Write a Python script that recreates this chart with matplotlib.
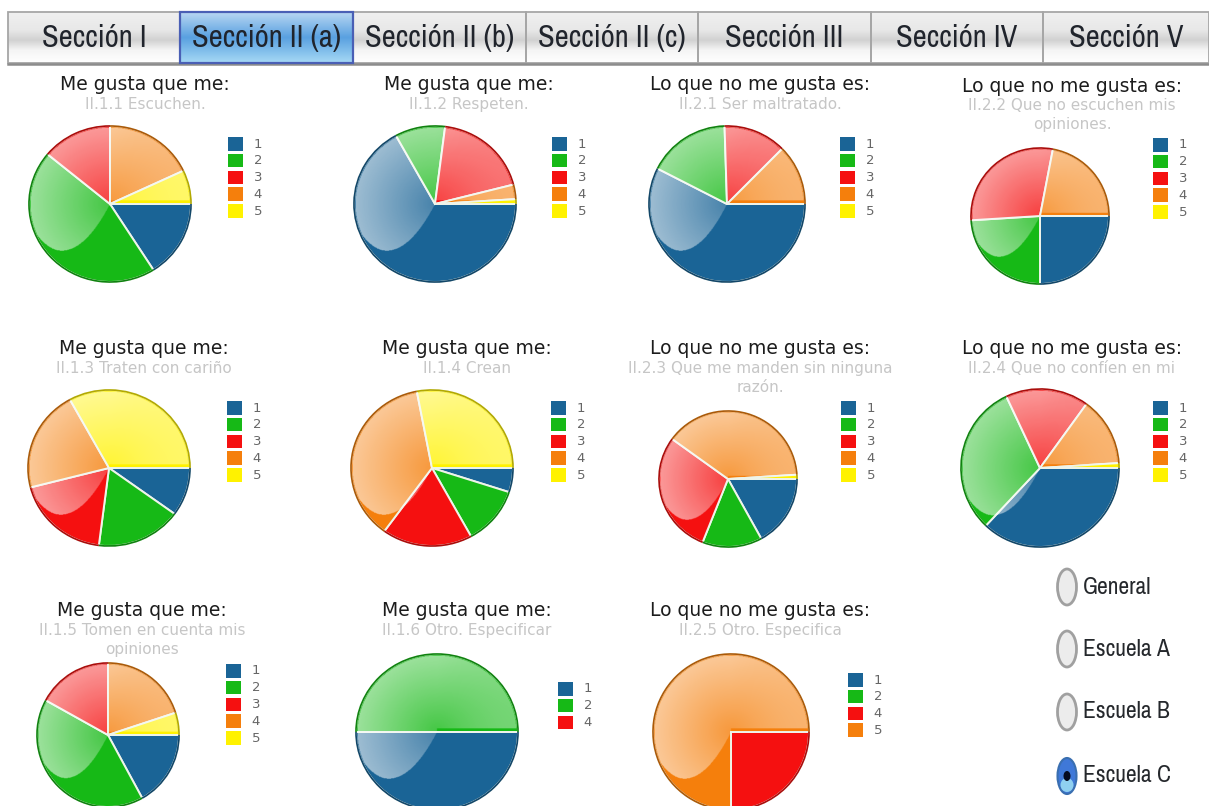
import numpy as np
import matplotlib
matplotlib.use('Agg')
import matplotlib.pyplot as plt
from matplotlib.patches import Arc, Rectangle, Ellipse
from matplotlib import font_manager as fm

W, H = 1209, 806

secciones = ['Sección I', 'Sección II (a)', 'Sección II (b)', 'Sección II (c)',
             'Sección III', 'Sección IV', 'Sección V']
escuelas = ['General', 'Escuela A', 'Escuela B', 'Escuela C']

# valores, en % (sentido horario desde las 3)
etiquetas = ['1', '2', '3', '4', '5']
v_escuchen = [16, 45, 14, 18, 7]
v_respeten = [67, 10, 19, 3, 1]
v_maltratado = [57.5, 17, 13, 12.5, 0]
v_opiniones = [25, 24, 29, 22, 0]
v_carino = [10, 17, 19, 21, 33]
v_crean = [5, 12, 18, 37, 28]
v_manden = [17, 14, 29, 39, 1]
v_confien = [37, 31, 17, 14, 1]
v_tomen = [17, 41, 17, 20, 5]
v_otro1 = [50, 50, 0]
v_otro2 = [0, 0, 25, 75]

azul, verde, rojo, naranja, amarillo = '#1a6496', '#16b916', '#f51010', '#f57f0c', '#fff200'
colores = [azul, verde, rojo, naranja, amarillo]

MG = 'Me gusta que me:'
LQ = 'Lo que no me gusta es:'

# titulo, subtitulo, valores, etiquetas, colores, cx, cy, rx, ry, x e y de la leyenda, x e y del titulo
graficas = [
    (MG, 'II.1.1 Escuchen.', v_escuchen, etiquetas, colores, 110, 204, 81, 78, 228, 137, 145, 85),
    (MG, 'II.1.2 Respeten.', v_respeten, etiquetas, colores, 435, 204, 81, 78, 552, 137, 469, 85),
    (LQ, 'II.2.1 Ser maltratado.', v_maltratado, etiquetas, colores, 727, 204, 78, 78, 840, 137, 760, 85),
    (LQ, 'II.2.2 Que no escuchen mis\nopiniones.', v_opiniones, etiquetas, colores, 1040, 216, 69, 68, 1153, 138, 1072, 86),
    (MG, 'II.1.3 Traten con cariño', v_carino, etiquetas, colores, 109, 468, 81, 78, 227, 401, 144, 349),
    (MG, 'II.1.4 Crean', v_crean, etiquetas, colores, 432, 468, 81, 78, 551, 401, 467, 349),
    (LQ, 'II.2.3 Que me manden sin ninguna\nrazón.', v_manden, etiquetas, colores, 728, 479, 69, 68, 841, 401, 760, 349),
    (LQ, 'II.2.4 Que no confíen en mi', v_confien, etiquetas, colores, 1040, 468, 79, 79, 1153, 401, 1072, 349),
    (MG, 'II.1.5 Tomen en cuenta mis\nopiniones', v_tomen, etiquetas, colores, 108, 735, 71, 72, 226, 664, 142, 611),
    (MG, 'II.1.6 Otro. Especificar', v_otro1, ['1', '2', '4'], [azul, verde, rojo], 437, 732, 81, 78, 558, 682, 467, 611),
    (LQ, 'II.2.5 Otro. Especifica', v_otro2, ['1', '2', '4', '5'], [azul, verde, rojo, naranja], 731, 732, 78, 78, 848, 673, 760, 611),
]

# una fuente estrecha si hay alguna, si no Roboto
instaladas = sorted({f.name for f in fm.fontManager.ttflist})
estrechas = [n for n in instaladas if 'Narrow' in n or 'Condensed' in n]
estrecha = estrechas[0] if estrechas else 'Roboto'
t_tab, t_radio = (22, 17) if estrechas else (18, 15)

fig = plt.figure(figsize=(W / 100, H / 100), dpi=100, facecolor='white')

fondo = fig.add_axes([0, 0, 1, 1])
fondo.set_xlim(0, W)
fondo.set_ylim(H, 0)
fondo.axis('off')

# pestañas de arriba
bordes = [8, 180, 353, 526, 698, 871, 1043, 1209]
g_gris = np.interp(np.linspace(0, 1, 50), [0, .35, .55, .75, 1],
                   [.94, .91, .82, .96, 1.0])
img_gris = np.dstack([g_gris, g_gris, g_gris]).reshape(50, 1, 3)
img_azul = np.dstack([np.interp(np.linspace(0, 1, 50), [0, .5, 1], [.72, .35, .65]),
                      np.interp(np.linspace(0, 1, 50), [0, .5, 1], [.84, .63, .85]),
                      np.interp(np.linspace(0, 1, 50), [0, .5, 1], [.95, .88, .96])]).reshape(50, 1, 3)
for i, nombre in enumerate(secciones):
    x0, x1 = bordes[i], bordes[i + 1]
    activa = i == 1
    fondo.imshow(img_azul if activa else img_gris, extent=(x0, x1, 63, 12), aspect='auto', zorder=1)
    fondo.add_patch(Rectangle((x0, 12), x1 - x0, 51, fill=False, lw=1.6 if activa else 1.3,
                              ec='#4a5fb5' if activa else '#a6a6a6', zorder=3 if activa else 2))
    fondo.text((x0 + x1) / 2, 38, nombre, ha='center', va='center', fontsize=t_tab,
               family=[estrecha, 'DejaVu Sans'], color='#20242c', zorder=4)
fondo.plot([8, 1209], [63.5, 63.5], color='#8c8c8c', lw=1.8, zorder=2)
fondo.set_xlim(0, W)
fondo.set_ylim(H, 0)

# botones de escuela
for i, nombre in enumerate(escuelas):
    yc = [587, 649, 712, 776][i]
    if nombre == 'Escuela C':
        fondo.add_patch(Ellipse((1067, yc), 19, 36, fc='#3f78d8', ec='#3a6fb0', lw=1.5, zorder=2))
        fondo.add_patch(Ellipse((1067, yc + 9), 13, 14, fc='#8fd0f0', ec='none', zorder=3))
        fondo.add_patch(Ellipse((1067, yc), 7, 10, fc='#050a20', ec='none', zorder=4))
    else:
        fondo.add_patch(Ellipse((1067, yc), 19, 36, fc='#ececec', ec='#a0a0a0', lw=2, zorder=2))
    fondo.text(1083, yc, nombre, ha='left', va='center', fontsize=t_radio,
               family=[estrecha, 'DejaVu Sans'], color='#25282c')

# brillo de los pasteles
xx, yy = np.meshgrid(np.linspace(-1, 1, 300), np.linspace(1, -1, 300))
rr = np.hypot(xx, yy)
curva = np.where(xx > 0, 0.05, -0.6 * (1 - ((np.clip(xx, -0.6, 0) + 0.6) / 0.6) ** 2))
curva = np.where(xx < -0.6, -0.6 + 2.2 * (xx + 0.6) ** 2, curva)
mascara = (rr < 0.985) & (yy > curva)
alfa = (0.2 + 0.38 * rr * (0.55 + 0.45 * np.clip(1 - xx, 0, 1))) * mascara
brillo = np.dstack([np.ones_like(alfa), np.ones_like(alfa), np.ones_like(alfa), alfa])

for titulo, sub, valores, etqs, cols, cx, cy, rx, ry, lx, ly, tx, ty in graficas:
    ax = fig.add_axes([(cx - rx) / W, 1 - (cy + ry) / H, 2 * rx / W, 2 * ry / H])
    cuñas, _ = ax.pie(valores, colors=cols, startangle=0, counterclock=False, radius=1,
                      wedgeprops={'edgecolor': '#eef4ea', 'linewidth': 1.4})
    ax.imshow(brillo, extent=(-1, 1, -1, 1), aspect='auto', zorder=5, interpolation='bilinear')
    for c in cuñas:
        if c.theta2 - c.theta1 > 0:
            oscuro = tuple(0.7 * v for v in c.get_facecolor()[:3])
            ax.add_patch(Arc((0, 0), 2, 2, theta1=c.theta1, theta2=c.theta2,
                             color=oscuro, lw=1.2, zorder=6, clip_on=False))
    ax.set_aspect('auto')
    ax.set_xlim(-1, 1)
    ax.set_ylim(-1, 1)
    ax.axis('off')

    fondo.text(tx, ty, titulo, ha='center', va='center', fontsize=13.5, color='#1c1c1c')
    fondo.text(tx, ty + 12, sub, ha='center', va='top', fontsize=11, color='#c6c6c6', linespacing=1.3)

    for j, (e, col) in enumerate(zip(etqs, cols)):
        fondo.add_patch(Rectangle((lx, ly + j * 16.8), 15, 13.5, fc=col, ec='none'))
        fondo.text(lx + 30, ly + j * 16.8 + 7, e, ha='center', va='center', fontsize=9.5, color='#666666')

fig.savefig('out.png', dpi=100)
